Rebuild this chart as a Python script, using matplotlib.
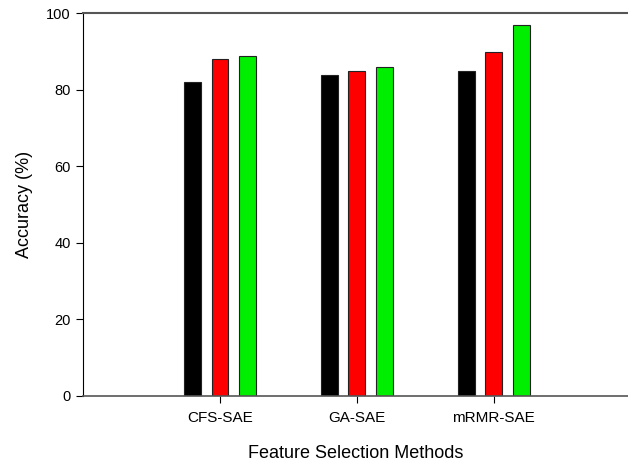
import matplotlib
matplotlib.use("Agg")
import matplotlib.pyplot as plt
import numpy as np

plt.rcParams['font.family'] = ['Liberation Sans', 'DejaVu Sans']

categories = ["CFS-SAE", "GA-SAE", "mRMR-SAE"]
series1 = [82, 84, 85]   # black
series2 = [88, 85, 90]   # red
series3 = [89, 86, 97]   # green
colors = ["#000000", "#ff0000", "#00ee00"]

fig = plt.figure(figsize=(6.28, 4.62), dpi=100)
ax = fig.add_axes([0.1322, 0.1429, 0.8678, 0.8279])

x = np.arange(1, len(categories) + 1)
w = 0.123
off = 0.2
for i, (vals, c) in enumerate(zip([series1, series2, series3], colors)):
    ax.bar(x + (i - 1) * off, vals, width=w, color=c, edgecolor="#222222", linewidth=0.8)

ax.set_xlim(0, 3.98)
ax.set_ylim(0, 100)
ax.set_xticks(x)
ax.set_xticklabels(categories, fontsize=11)
ax.set_yticks([0, 20, 40, 60, 80, 100])
ax.tick_params(axis='y', labelsize=10.5, length=5, width=0.8, direction='out', pad=4)
ax.tick_params(axis='x', length=5, width=0.8, direction='out', pad=6)

ax.spines['right'].set_visible(False)
ax.spines['top'].set_color('#555555')
ax.spines['top'].set_linewidth(1.5)
ax.spines['bottom'].set_color('#555555')
ax.spines['bottom'].set_linewidth(1.2)
ax.spines['left'].set_linewidth(0.8)

ax.set_xlabel("Feature Selection Methods", fontsize=13, labelpad=14)
ax.set_ylabel("Accuracy (%)", fontsize=13, labelpad=9)

fig.savefig("out.png", dpi=100)
